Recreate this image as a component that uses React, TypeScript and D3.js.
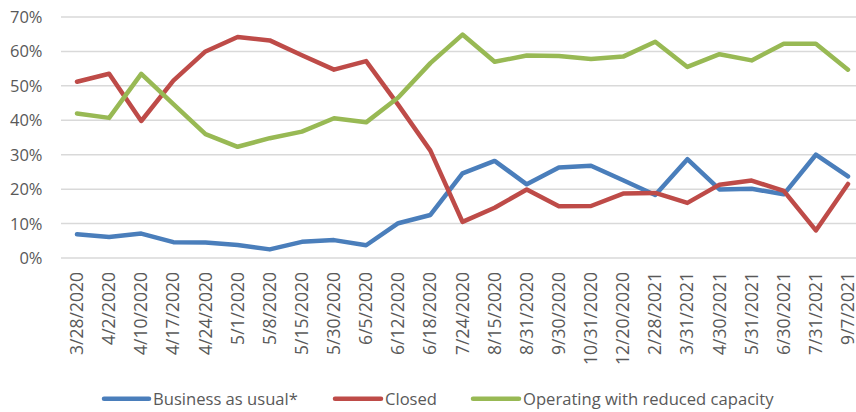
import React from "react";
import * as d3 from "d3";

const categories = [
  "3/28/2020", "4/2/2020", "4/10/2020", "4/17/2020", "4/24/2020", "5/1/2020",
  "5/8/2020", "5/15/2020", "5/30/2020", "6/5/2020", "6/12/2020", "6/18/2020",
  "7/24/2020", "8/15/2020", "8/31/2020", "9/30/2020", "10/31/2020", "12/20/2020",
  "2/28/2021", "3/31/2021", "4/30/2021", "5/31/2021", "6/30/2021", "7/31/2021", "9/7/2021",
];

const businessAsUsual = [
  6.9, 6.1, 7.1, 4.6, 4.5, 3.8, 2.5, 4.7, 5.2, 3.7, 10.1, 12.5,
  24.6, 28.2, 21.4, 26.3, 26.8, 22.6, 18.3, 28.7, 19.9, 20.1, 18.5, 30.0, 23.7,
];

const closed = [
  51.2, 53.5, 39.8, 51.5, 60.0, 64.2, 63.2, 58.9, 54.7, 57.2, 44.5, 31.2,
  10.5, 14.6, 19.9, 15.0, 15.1, 18.7, 18.9, 16.0, 21.3, 22.5, 19.5, 8.0, 21.5,
];

const reducedCapacity = [
  42.0, 40.7, 53.5, 44.7, 36.0, 32.3, 34.8, 36.7, 40.6, 39.4, 46.6, 56.6,
  64.9, 57.0, 58.8, 58.7, 57.8, 58.5, 62.8, 55.5, 59.2, 57.4, 62.2, 62.2, 54.7,
];

const yTicks = [0, 10, 20, 30, 40, 50, 60, 70];

const seriesNames = ["Business as usual*", "Closed", "Operating with reduced capacity"];
const seriesColors = ["#4a7ebb", "#be4b48", "#98b954"];

export default function App() {
  const W = 856;
  const H = 412;
  const x = d3.scalePoint<string>().domain(categories).range([77, 848]);
  const y = d3.scaleLinear().domain([0, 70]).range([258, 17]);
  const line = d3
    .line<number>()
    .x((_, i) => x(categories[i]) as number)
    .y((d) => y(d));
  const series = [businessAsUsual, closed, reducedCapacity];
  const font = "'Open Sans', 'Noto Sans', sans-serif";
  const textColor = "#595959";
  const legendItems = [
    { x0: 104, x1: 149 },
    { x0: 335, x1: 381 },
    { x0: 473, x1: 519 },
  ];

  return (
    <svg
      width={W}
      height={H}
      style={{ position: "absolute", left: 0, top: 0, background: "#fff" }}
      fontFamily={font}
    >
      {yTicks.map((t) => (
        <g key={t}>
          <line x1={61} x2={W} y1={y(t)} y2={y(t)} stroke="#d9d9d9" strokeWidth={1.5} />
          <text x={42.5} y={y(t) + 6} textAnchor="end" fontSize={16.5} fill={textColor}>
            {t}%
          </text>
        </g>
      ))}
      {categories.map((c) => (
        <text
          key={c}
          transform={`translate(${(x(c) as number) + 6},272) rotate(-90)`}
          textAnchor="end"
          fontSize={17.5}
          fill={textColor}
        >
          {c}
        </text>
      ))}
      {series.map((s, i) => (
        <path
          key={i}
          d={line(s) || ""}
          fill="none"
          stroke={seriesColors[i]}
          strokeWidth={4.5}
          strokeLinejoin="round"
          strokeLinecap="round"
        />
      ))}
      {seriesNames.map((n, i) => (
        <g key={n}>
          <line
            x1={legendItems[i].x0}
            x2={legendItems[i].x1}
            y1={398.7}
            y2={398.7}
            stroke={seriesColors[i]}
            strokeWidth={4.5}
            strokeLinecap="round"
          />
          <text x={legendItems[i].x1 + 4} y={405} fontSize={16.6} fill={textColor}>
            {n}
          </text>
        </g>
      ))}
    </svg>
  );
}
